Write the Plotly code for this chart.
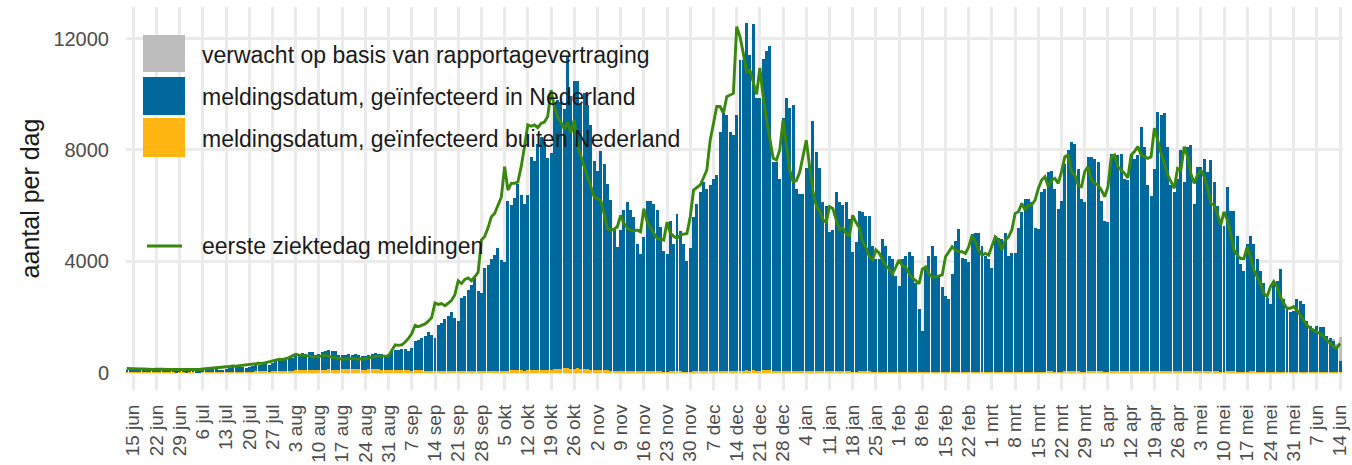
import pandas as pd
import plotly.graph_objects as go

# ---------------- data (daily, 13 jun 2020 .. 14 jun 2021) ----------------
start_date = "2020-06-13"

# meldingsdatum, geinfecteerd in Nederland (blue bars)
in_nl = [
    100, 90,
    140, 130, 120, 110, 120, 100, 80,          # 15 jun
    90, 100, 110, 100, 90, 80, 70,             # 22 jun
    80, 90, 70, 80, 90, 60, 60,                # 29 jun
    80, 110, 100, 120, 110, 100, 80,           # 6 jul
    120, 150, 170, 190, 160, 180, 150,         # 13 jul
    180, 220, 230, 250, 270, 260, 230,         # 20 jul
    300, 380, 400, 430, 460, 450, 480,         # 27 jul
    520, 560, 600, 560, 630, 640, 560,         # 3 aug
    590, 630, 680, 700, 650, 680, 550,         # 10 aug
    500, 520, 530, 510, 550, 530, 480,         # 17 aug
    480, 520, 560, 570, 570, 550, 510,         # 24 aug
    560, 650, 690, 700, 740, 760, 700,         # 31 aug
    800, 1050, 1100, 1150, 1250, 1400, 1300,   # 7 sep
    1200, 1650, 1700, 1850, 1950, 2130, 1900,  # 14 sep
    1800, 2600, 2700, 2900, 3100, 3330, 2900,  # 21 sep
    2800, 3690, 3800, 4000, 4160, 4400, 4000,  # 28 sep
    3900, 6080, 5960, 6200, 6700, 6300, 6000,  # 5 okt
    6300, 7640, 7500, 8120, 8340, 8200, 7630,  # 12 okt
    7800, 9560, 9670, 9600, 9310, 11170, 9800, # 19 okt
    10330, 10330, 9500, 9910, 9500, 8800, 7520,  # 26 okt
    7160, 7880, 7400, 6680, 6130, 5060, 4460,  # 2 nov
    5060, 5780, 6080, 5780, 5540, 4580, 4220,  # 9 nov
    4820, 6130, 6130, 6010, 5780, 5180, 4340,  # 16 nov
    4220, 5420, 4580, 5660, 5060, 4580, 3980,  # 23 nov
    4460, 5540, 6010, 6440, 6800, 6560, 6680,  # 30 nov
    6920, 7040, 8590, 9430, 9190, 8590, 8470,  # 7 dec
    9190, 11170, 11170, 12490, 11350, 12430, 9790,  # 14 dec
    9790, 11170, 11470, 11650, 7520, 7520, 6920,    # 21 dec
    9080, 9790, 9440, 9560, 6560, 6380, 6380,  # 28 dec
    7280, 7400, 8960, 7880, 7280, 6080, 5960,  # 4 jan
    5000, 5100, 6440, 6080, 5960, 6080, 5480,  # 11 jan
    4290, 4650, 5780, 5720, 5600, 5600, 4530,  # 18 jan
    4050, 4050, 4770, 4530, 4170, 4050, 3450,  # 25 jan
    3090, 4050, 4170, 4290, 4170, 3210, 2250,  # 1 feb
    1470, 3690, 4170, 4530, 4170, 3450, 3060,  # 8 feb
    2730, 2610, 3510, 4700, 5120, 4100, 4040,  # 15 feb
    3940, 4940, 5000, 5000, 4520, 4160, 4040,  # 22 feb
    3740, 4880, 4820, 4760, 5000, 4160, 4280,  # 1 mrt
    4280, 5180, 5720, 6200, 6200, 6080, 5180,  # 8 mrt
    5120, 6440, 6560, 7160, 7220, 6560, 5840,  # 15 mrt
    6140, 7460, 7940, 8240, 8180, 7280, 6200,  # 22 mrt
    6080, 7700, 7700, 7640, 7520, 6140, 5420,  # 29 mrt
    5360, 7820, 7820, 7760, 7820, 6920, 6860,  # 5 apr
    7760, 7640, 7760, 8780, 8060, 6680, 6300,  # 12 apr
    7280, 9320, 9200, 9260, 8060, 6680, 6440,  # 19 apr
    6900, 7940, 6800, 8060, 8120, 6020, 7340,  # 26 apr
    7340, 7640, 7160, 7580, 6800, 5960, 5480,  # 3 mei
    5240, 6620, 5780, 5780, 4880, 3860, 3620,  # 10 mei
    4580, 4880, 4580, 4040, 3620, 3200, 2670,  # 17 mei
    2430, 3270, 3270, 3680, 2610, 2250, 2130,  # 24 mei
    2200, 2610, 2550, 2430, 1830, 1650, 1530,  # 31 mei
    1650, 1600, 1600, 1290, 1200, 1110, 870,   # 7 jun
    420,                                       # 14 jun
]

# meldingsdatum, geinfecteerd buiten Nederland (orange bars)
abroad = [
    5, 5,
    5, 5, 5, 5, 5, 5, 5,
    5, 5, 5, 10, 5, 5, 5,
    5, 10, 5, 10, 10, 5, 5,
    10, 10, 15, 15, 15, 10, 10,
    15, 20, 20, 25, 25, 20, 20,
    30, 35, 40, 40, 45, 40, 35,
    50, 60, 65, 70, 75, 70, 60,
    80, 90, 95, 100, 100, 95, 85,
    95, 105, 110, 115, 110, 105, 90,
    120, 125, 130, 125, 120, 115, 100,
    110, 120, 125, 120, 115, 110, 95,
    100, 110, 105, 100, 95, 90, 80,
    70, 80, 85, 80, 75, 70, 60,
    60, 70, 75, 70, 70, 65, 55,
    55, 65, 70, 70, 65, 60, 50,
    55, 65, 70, 70, 70, 65, 55,
    60, 75, 80, 85, 85, 80, 70,
    80, 95, 100, 105, 110, 100, 90,
    100, 120, 130, 140, 150, 160, 130,
    140, 150, 140, 130, 120, 110, 95,
    90, 95, 85, 80, 70, 60, 50,
    50, 55, 55, 50, 50, 45, 40,
    45, 50, 50, 50, 45, 40, 35,
    35, 45, 40, 45, 40, 35, 30,
    35, 40, 45, 45, 50, 45, 45,
    50, 55, 60, 65, 65, 60, 55,
    65, 75, 75, 80, 75, 80, 65,
    70, 80, 85, 85, 55, 50, 45,
    60, 70, 70, 65, 50, 45, 45,
    55, 60, 70, 60, 55, 45, 40,
    40, 40, 50, 45, 45, 45, 40,
    35, 35, 40, 40, 40, 40, 30,
    30, 30, 35, 30, 30, 30, 25,
    25, 30, 30, 30, 30, 25, 20,
    15, 25, 30, 30, 30, 25, 20,
    20, 20, 25, 30, 30, 25, 25,
    25, 30, 30, 30, 30, 25, 25,
    25, 30, 30, 30, 30, 25, 25,
    25, 30, 35, 35, 35, 35, 30,
    30, 35, 35, 40, 40, 35, 30,
    35, 40, 45, 45, 45, 40, 35,
    35, 45, 45, 45, 45, 40, 35,
    35, 50, 50, 50, 50, 45, 45,
    50, 50, 50, 55, 50, 45, 40,
    45, 55, 55, 55, 50, 45, 40,
    45, 50, 45, 50, 50, 40, 45,
    45, 50, 45, 50, 45, 40, 35,
    35, 45, 40, 40, 35, 30, 30,
    35, 40, 40, 35, 30, 30, 25,
    25, 30, 30, 35, 30, 30, 30,
    30, 35, 35, 35, 30, 30, 30,
    35, 35, 35, 30, 30, 30, 25,
    15,
]

# verwacht op basis van rapportagevertraging (grey, only last days)
expected_dates = ["2021-06-12", "2021-06-13", "2021-06-14"]
expected_vals = [40, 150, 850]

# eerste ziektedag meldingen (green line)
first_day = [
    150, 140,
    150, 140, 130, 130, 120, 110, 110,
    120, 130, 120, 110, 110, 100, 100,
    100, 110, 100, 110, 120, 110, 110,
    130, 140, 150, 150, 160, 170, 180,
    200, 220, 240, 230, 250, 260, 280,
    290, 300, 320, 340, 330, 360, 380,
    420, 450, 480, 470, 500, 540, 600,
    660, 630, 610, 600, 590, 580, 560,
    580, 600, 620, 580, 560, 520, 500,
    480, 490, 500, 510, 490, 480, 490,
    500, 530, 560, 580, 590, 600, 600,
    600, 800, 1000, 980, 1000, 1100, 1230,
    1400, 1700, 1650, 1700, 1750, 1850, 1980,
    2500, 2450, 2480, 2400, 2500, 2600, 2800,
    3300, 3200, 3350, 3400, 3300, 3450, 3600,
    4760, 4900, 5200, 5600, 5720, 6000, 6300,
    7400, 6560, 6800, 6800, 6850, 7400, 8120,
    8900, 8850, 8900, 8800, 8950, 9000, 9200,
    10150, 9560, 9190, 9000, 8750, 8990, 8620,
    9080, 8150, 7750, 7400, 7030, 6700, 6310,
    6250, 6190, 5710, 5180, 5120, 5150, 5240,
    5650, 5360, 5200, 5120, 5100, 5120, 5060,
    5890, 5410, 5200, 5000, 4820, 4800, 4760,
    5410, 5000, 4900, 4820, 4950, 4980, 5000,
    5600, 6560, 6650, 6740, 7000, 7280, 8340,
    8950, 9560, 9560, 9310, 9910, 9970, 10030,
    12430, 12070, 11470, 10810, 10870, 10390, 10000,
    10950, 9900, 9100, 8400, 7700, 7640, 8000,
    9080, 8120, 7280, 6860, 6900, 7200, 7760,
    8350, 7400, 6500, 6000, 5800, 5500, 5400,
    5960, 5900, 5500, 5150, 5200, 5000, 4900,
    5650, 5400, 5200, 4700, 4500, 4170, 4050,
    4410, 4290, 4050, 3840, 3720, 3550, 3790,
    4050, 3840, 3790, 3550, 3400, 3310, 3190,
    3720, 3800, 3550, 3430, 3430, 3480, 3510,
    4160, 4340, 4520, 4400, 4340, 4340, 4280,
    4520, 4940, 4700, 4400, 4220, 4280, 4220,
    4520, 4880, 4760, 4400, 4760, 4880, 5120,
    5720, 5780, 6080, 5840, 6020, 6020, 6200,
    6620, 6920, 7040, 6680, 6920, 6980, 6800,
    7220, 7760, 7820, 7220, 7100, 6740, 6680,
    7220, 7400, 6920, 6800, 6740, 6560, 6320,
    6680, 7760, 7820, 7400, 7280, 7160, 7000,
    7820, 7940, 8120, 7820, 7760, 7700, 7750,
    8780, 8360, 7880, 7520, 7100, 6860, 6620,
    7340, 7280, 8120, 7760, 7160, 6800, 7100,
    7280, 7040, 6680, 6080, 6020, 5720, 5300,
    5780, 5480, 5000, 4400, 4220, 4100, 4100,
    4520, 4160, 3680, 3440, 3200, 2850, 2730,
    3080, 3270, 3080, 2730, 2490, 2310, 2310,
    2370, 2250, 2070, 1890, 1710, 1590, 1530,
    1470, 1400, 1290, 1170, 1060, 940, 880,
    1050,
]

tick_labels = [
    "15 jun", "22 jun", "29 jun", "6 jul", "13 jul", "20 jul", "27 jul",
    "3 aug", "10 aug", "17 aug", "24 aug", "31 aug", "7 sep", "14 sep",
    "21 sep", "28 sep", "5 okt", "12 okt", "19 okt", "26 okt", "2 nov",
    "9 nov", "16 nov", "23 nov", "30 nov", "7 dec", "14 dec", "21 dec",
    "28 dec", "4 jan", "11 jan", "18 jan", "25 jan", "1 feb", "8 feb",
    "15 feb", "22 feb", "1 mrt", "8 mrt", "15 mrt", "22 mrt", "29 mrt",
    "5 apr", "12 apr", "19 apr", "26 apr", "3 mei", "10 mei", "17 mei",
    "24 mei", "31 mei", "7 jun", "14 jun",
]
y_ticks = [0, 4000, 8000, 12000]

legend_labels = [
    "verwacht op basis van rapportagevertraging",
    "meldingsdatum, geïnfecteerd in Nederland",
    "meldingsdatum, geïnfecteerd buiten Nederland",
]
line_label = "eerste ziektedag meldingen"

# ---------------- figure ----------------
n = len(in_nl)
assert n == len(abroad) == len(first_day) == 367
dates = pd.date_range(start_date, periods=n, freq="D")
tick_vals = pd.date_range("2020-06-15", periods=len(tick_labels), freq="7D")

C_GREY = "#BDBDBD"
C_BLUE = "#01689B"
C_ORANGE = "#FFB612"
C_GREEN = "#39870C"
FONT = "Liberation Sans, Arial, sans-serif"
DAY_MS = 86400000

fig = go.Figure()
fig.add_trace(go.Bar(x=dates, y=abroad, marker_color=C_ORANGE, marker_line_width=0,
                     width=0.9 * DAY_MS, name=legend_labels[2]))
fig.add_trace(go.Bar(x=dates, y=in_nl, marker_color=C_BLUE, marker_line_width=0,
                     width=0.9 * DAY_MS, name=legend_labels[1]))
fig.add_trace(go.Bar(x=pd.to_datetime(expected_dates), y=expected_vals, marker_color=C_GREY,
                     marker_line_width=0, width=0.9 * DAY_MS, name=legend_labels[0],
                     base=[in_nl[-3] + abroad[-3], in_nl[-2] + abroad[-2], in_nl[-1] + abroad[-1]]))
fig.add_trace(go.Scatter(x=dates, y=first_day, mode="lines",
                         line=dict(color=C_GREEN, width=2.9), name=line_label))

W, H = 1352, 465
L, R, T, B = 126, 9, 7, 75
pw, ph = W - L - R, H - T - B


def px(x):
    return (x - L) / pw


def py(y):
    return (H - B - y) / ph


shapes = []
annotations = []
key_rows = [(35, 72, C_GREY), (77, 115, C_BLUE), (118, 157, C_ORANGE)]
text_y = [55, 97, 139]
for (y0, y1, col), lab, ty in zip(key_rows, legend_labels, text_y):
    shapes.append(dict(type="rect", xref="paper", yref="paper",
                       x0=px(143), x1=px(185), y0=py(y1), y1=py(y0),
                       fillcolor=col, line_width=0, layer="above"))
    annotations.append(dict(xref="paper", yref="paper", x=px(200), y=py(ty),
                            text=lab, showarrow=False, xanchor="left", yanchor="middle",
                            font=dict(family=FONT, size=23, color="#1a1a1a")))
shapes.append(dict(type="line", xref="paper", yref="paper", x0=px(147), x1=px(182),
                   y0=py(246), y1=py(246), line=dict(color=C_GREEN, width=2.9), layer="above"))
annotations.append(dict(xref="paper", yref="paper", x=px(200), y=py(246),
                        text=line_label, showarrow=False, xanchor="left", yanchor="middle",
                        font=dict(family=FONT, size=23, color="#1a1a1a")))

fig.update_layout(
    width=W, height=H, barmode="stack", bargap=0, showlegend=False,
    margin=dict(l=L, r=R, t=T, b=B, pad=0, autoexpand=False),
    plot_bgcolor="white", paper_bgcolor="white",
    font=dict(family=FONT, color="#4D4D4D"),
    shapes=shapes, annotations=annotations,
    xaxis=dict(type="date", range=["2020-06-12 19:00", "2021-06-14 21:30"],
               tickvals=tick_vals, ticktext=tick_labels, tickangle=-90,
               tickfont=dict(size=19, color="#4D4D4D"), automargin=False,
               showgrid=True, gridcolor="#EBEBEB", gridwidth=2.5,
               zeroline=False, showline=False, ticks="outside", ticklen=6,
               tickcolor="rgba(0,0,0,0)"),
    yaxis=dict(range=[-625, 13136], tickvals=y_ticks, ticktext=[str(v) for v in y_ticks],
               tickfont=dict(size=20, color="#4D4D4D"), automargin=False,
               showgrid=True, gridcolor="#EBEBEB", gridwidth=2.5,
               zeroline=False, showline=False, ticks="outside", ticklen=12,
               tickcolor="rgba(0,0,0,0)",
               title=dict(text="aantal per dag", font=dict(size=25, color="#1a1a1a"), standoff=6)),
)

fig.write_html("out.html", config={"displayModeBar": False},
               post_script="document.body.style.margin='0px';")
